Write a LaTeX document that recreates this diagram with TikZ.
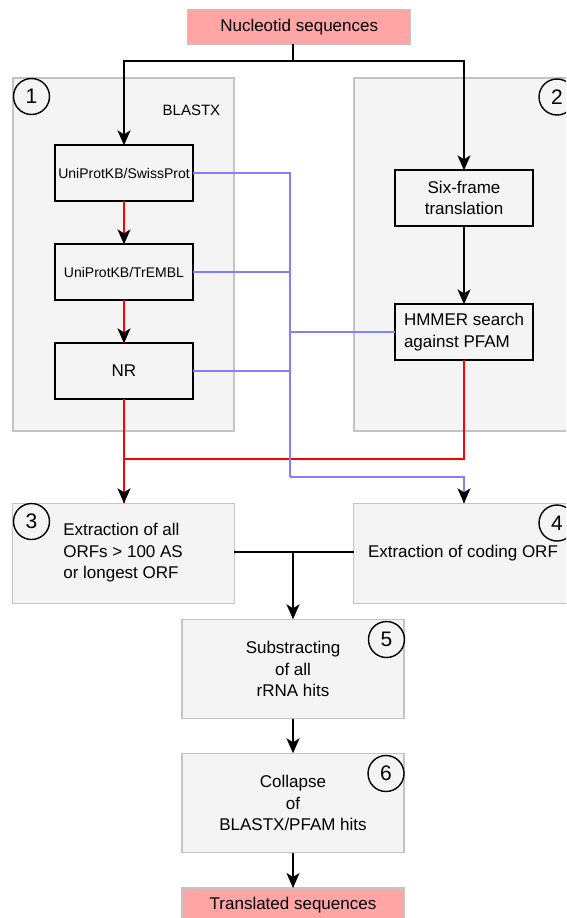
\documentclass[tikz,border=0pt]{standalone}
\usepackage{fontspec}
\setmainfont{Liberation Sans}
\usetikzlibrary{arrows.meta}
\definecolor{pinkbox}{RGB}{255,165,165}
\definecolor{panel}{RGB}{244,244,244}
\definecolor{panelline}{RGB}{196,196,196}
\definecolor{hitblue}{RGB}{128,128,255}
\definecolor{hitred}{RGB}{255,0,0}
\begin{document}
\begin{tikzpicture}[x=1pt,y=-1pt,
  every node/.style={inner sep=0pt, outer sep=0pt},
  txt/.style={font=\fontsize{17}{21.6}\selectfont},
  endbox/.style={draw=panelline, line width=1.2pt, fill=pinkbox, minimum width=223pt, minimum height=35pt, txt},
  panelbox/.style={draw=panelline, line width=2pt, fill=panel},
  stepbox/.style={draw=panelline, line width=1.4pt, fill=panel, minimum width=222pt, minimum height=99.4pt, align=center, txt},
  dbbox/.style={draw=black, line width=1.8pt, fill=panel, minimum width=138.5pt, minimum height=55.3pt, align=center},
  num/.style={draw=black, line width=1.4pt, circle, minimum size=36pt, font=\fontsize{21}{21}\selectfont},
  flow/.style={draw=black, line width=1.8pt},
  tip/.style={-{Stealth[length=15pt,width=13pt,inset=4pt]}},
  hit/.style={draw=hitblue, line width=1.6pt},
  best/.style={draw=hitred, line width=1.9pt},
]
\useasboundingbox (0,0) rectangle (566,918);
\clip (0,0) rectangle (566,918);

% panels of the two search branches and the two extraction steps
\node[panelbox, minimum width=221.6pt, minimum height=353pt] (g1) at (123.5,254.8) {};
\node[panelbox, minimum width=226.3pt, minimum height=353pt] (g2) at (466.85,254.8) {};
\node[panelbox, line width=1.4pt, minimum width=221.6pt, minimum height=100pt] (g3) at (123.5,553.3) {};
\node[panelbox, line width=1.4pt, minimum width=226.3pt, minimum height=100pt] (g4) at (466.85,553.3) {};

% input and output
\node[endbox] (nuc) at (299.2,26.7) {Nucleotid sequences};
\node[endbox, minimum width=222pt] (out) at (293,905.5) {Translated sequences};

% BLASTX databases
\node[font=\fontsize{15}{15}\selectfont, anchor=west] (blastx) at (162.7,110.7) {BLASTX};
\node[dbbox, font=\fontsize{14}{17}\selectfont] (sp) at (124,173) {UniProtKB/SwissProt};
\node[dbbox, font=\fontsize{14}{17}\selectfont] (tr) at (124,272) {UniProtKB/TrEMBL};
\node[dbbox, txt] (nr) at (124,371) {NR};

% HMMER branch
\node[dbbox, txt] (sf) at (464,198) {Six-frame\\translation};
\node[dbbox, txt, align=left] (hm) at (464,332) {HMMER search\\against PFAM};

% extraction texts
\node[txt, anchor=west, align=left] (t3) at (63.3,552.7) {Extraction of all\\ORFs > 100 AS\\or longest ORF};
\node[txt, anchor=west] (t4) at (368,552.7) {Extraction of coding ORF};

% later steps
\node[stepbox] (b5) at (293,669) {Substracting\\of all\\rRNA hits};
\node[stepbox] (b6) at (293,803) {Collapse\\of\\BLASTX/PFAM hits};

% split of the input
\coordinate (j1) at (293,61);
\draw[flow] (nuc.south -| j1) -- (j1);
\draw[flow,tip] (j1) -| (sp.north);
\draw[flow,tip] (j1) -| (sf.north);
\draw[flow,tip] (sf.south) -- (hm.north);

% database cascade (no-hit path), coloured lines with black heads on top
\draw[best] (sp.south) -- (tr.north);
\draw[best] (tr.south) -- (nr.north);
\coordinate (jr) at (124,459);
\draw[best] (nr.south) -- (jr);
\draw[best] (hm.south) |- (jr);
\draw[best] (jr) -- (jr |- g3.north);

% hits
\coordinate (bx) at (290,477);
\draw[hit] (sp.east) -| (bx);
\draw[hit] (tr.east) -- (tr.east -| bx);
\draw[hit] (nr.east) -- (nr.east -| bx);
\draw[hit] (hm.west) -- (hm.west -| bx);
\draw[hit] (bx) -| (hm.south |- g4.north);

% black arrow heads of the coloured connectors
\draw[flow,tip] ([yshift=11pt]tr.north) -- (tr.north);
\draw[flow,tip] ([yshift=11pt]nr.north) -- (nr.north);
\draw[flow,tip] ([yshift=11pt]jr |- g3.north) -- (jr |- g3.north);
\draw[flow,tip] ([yshift=11pt]hm.south |- g4.north) -- (hm.south |- g4.north);

% merge and final steps
\coordinate (j2) at (b5.north |- 0,552);
\draw[flow] (g3.east |- j2) -- (g4.west |- j2);
\draw[flow,tip] (j2) -- (b5.north);
\draw[flow,tip] (b5.south) -- (b6.north);
\draw[flow,tip] (b6.south) -- (out.north);

% step numbers
\node[num] (n1) at (31.5,96.5) {1};
\node[num] (n2) at (557,97) {2};
\node[num] (n3) at (31.5,521.5) {3};
\node[num] (n4) at (557,523) {4};
\node[num] (n5) at (386.5,639.5) {5};
\node[num] (n6) at (386,773.5) {6};
\end{tikzpicture}
\end{document}
